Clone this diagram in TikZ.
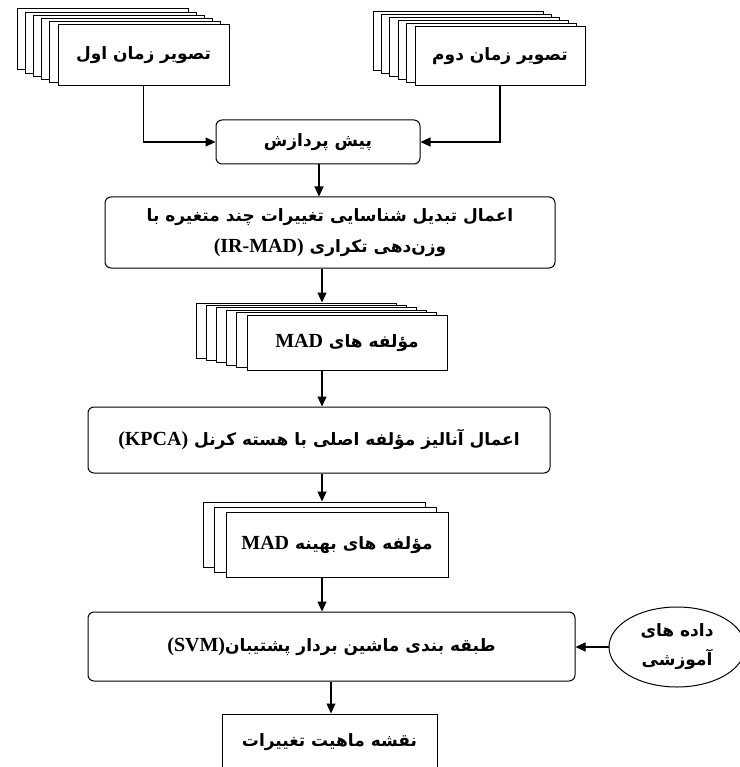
\documentclass[tikz,border=0pt]{standalone}
\usepackage{fontspec}
\TeXXeTstate=1
\newfontfamily\fafont[Script=Arabic]{DejaVu Sans}
\newfontfamily\latfont{Liberation Serif}
\usetikzlibrary{arrows.meta,shapes.geometric,calc}
\newcommand\FA[1]{{\fafont\bfseries\beginR #1\endR}}
\newcommand\LT[1]{\beginL{\latfont\bfseries\fontsize{20}{22}\selectfont #1}\endL}
\begin{document}
\begin{tikzpicture}[x=1pt,y=-1pt,
  sq/.style={draw, fill=white, line width=1pt, inner sep=0pt, align=center},
  rb/.style={sq, rounded corners=6pt},
  arr/.style={line width=1.1pt, -{Triangle[length=10pt,width=9pt]}},
  txt/.style={font=\fontsize{17}{31}\selectfont}]
\useasboundingbox (0,0) rectangle (739,767);

% top-left stack
\foreach \i in {5,...,1}
  \node[sq, minimum width=171pt, minimum height=61pt] (tl\i) at ({143.5-8.2*\i},{55.5-3.2*\i}) {};
\node[sq, txt, minimum width=171pt, minimum height=61pt] (tl) at (143.5,55.5) {\FA{تصویر زمان اول}};

% top-right stack
\foreach \i in {5,...,1}
  \node[sq, minimum width=170pt, minimum height=59pt] (tr\i) at ({500-8.4*\i},{56.5-3*\i}) {};
\node[sq, txt, minimum width=170pt, minimum height=59pt] (tr) at (500,56.5) {\FA{تصویر زمان دوم}};

% preprocessing
\node[rb, txt, minimum width=204pt, minimum height=44pt] (pre) at (318,142) {\FA{پیش پردازش}};

% IR-MAD
\node[rb, txt, minimum width=450pt, minimum height=71pt] (irmad) at (330,232.5)
  {\FA{اعمال تبدیل شناسایی تغییرات چند متغیره با}\\\FA{وزن‌دهی تکراری \LT{(IR-MAD)}}};

% MAD components stack
\foreach \i in {5,...,1}
  \node[sq, minimum width=200pt, minimum height=55pt] (mad\i) at ({347-10.2*\i},{342.5-2.4*\i}) {};
\node[sq, txt, minimum width=200pt, minimum height=55pt] (mad) at (347,342.5) {\FA{مؤلفه های \LT{MAD}}};

% KPCA
\node[rb, txt, minimum width=462pt, minimum height=66pt] (kpca) at (319,440) {\FA{اعمال آنالیز مؤلفه اصلی با هسته کرنل \LT{(KPCA)}}};

% optimal MAD stack
\foreach \i in {2,1}
  \node[sq, minimum width=222pt, minimum height=65pt] (opt\i) at ({337-11.5*\i},{544.5-5*\i}) {};
\node[sq, txt, minimum width=222pt, minimum height=65pt] (opt) at (337,544.5) {\FA{مؤلفه های بهینه \LT{MAD}}};

% SVM
\node[rb, txt, minimum width=487pt, minimum height=69pt] (svm) at (331.5,646.5) {\FA{طبقه بندی ماشین بردار پشتیبان\LT{(SVM)}}};

% training data
\node[ellipse, draw, line width=1pt, inner sep=0pt, align=center, font=\fontsize{17}{29}\selectfont, minimum width=136pt, minimum height=80pt] (train) at (677,647) {\FA{داده های}\\\FA{آموزشی}};

% output map
\node[sq, txt, minimum width=215pt, minimum height=56pt] (map) at (329.5,742) {\FA{نقشه ماهیت تغییرات}};

% axis coordinates for vertical arrows
\coordinate (a1) at (319,0);
\coordinate (a2) at (322,0);
\coordinate (a3) at (331,0);

% connectors
\draw[arr] (tl.south) |- (pre.west);
\draw[arr] (tr.south) |- (pre.east);
\draw[arr] (pre.south -| a1) -- (irmad.north -| a1);
\draw[arr] (irmad.south -| a2) -- (mad5.north -| a2);
\draw[arr] (mad.south -| a2) -- (kpca.north -| a2);
\draw[arr] (kpca.south -| a2) -- (opt2.north -| a2);
\draw[arr] (opt.south -| a2) -- (svm.north -| a2);
\draw[arr] (svm.south -| a3) -- (map.north -| a3);
\draw[arr] (train.west) -- (svm.east |- train.west);
\end{tikzpicture}
\end{document}
